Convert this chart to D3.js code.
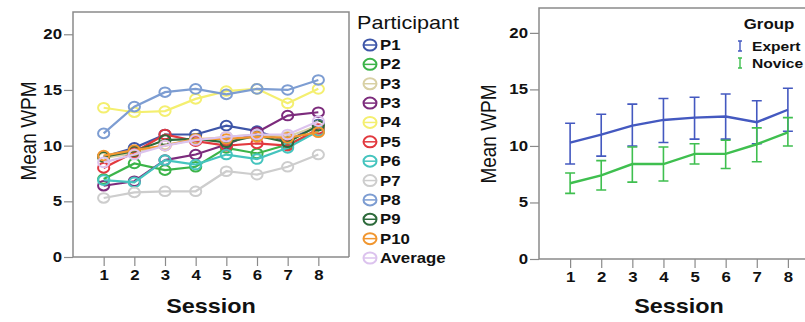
<!DOCTYPE html>
<html>
<head>
<meta charset="utf-8">
<script src="https://cdn.jsdelivr.net/npm/d3@7"></script>
<style>
  body { margin: 0; background: #fff; }
  svg { display: block; font-family: Arial, "Liberation Sans", sans-serif; }
</style>
</head>
<body>
<svg id="chart" width="805" height="322"></svg>
<script>
// sessions on the x axis
const sessions = [1, 2, 3, 4, 5, 6, 7, 8];
const yTicks = [0, 5, 10, 15, 20];

// left panel: mean WPM per participant per session
const participants = ["P1", "P2", "P3", "P3", "P4", "P5", "P6", "P7", "P8", "P9", "P10", "Average"];
const wpmP1  = [9.0, 9.8, 11.0, 11.0, 11.8, 11.3, 10.4, 11.9];
const wpmP2  = [7.0, 8.4, 7.8, 8.1, 9.8, 9.3, 10.1, 11.3];
const wpmP3a = [8.9, 9.3, 10.1, 10.5, 10.8, 11.0, 10.8, 11.8];
const wpmP3b = [6.4, 6.8, 8.7, 9.2, 10.1, 11.2, 12.7, 13.0];
const wpmP4  = [13.4, 13.0, 13.1, 14.2, 14.9, 15.1, 13.8, 15.1];
const wpmP5  = [8.0, 9.4, 11.0, 10.4, 10.0, 10.2, 10.0, 11.5];
const wpmP6  = [6.9, 6.7, 8.7, 8.3, 9.2, 8.8, 9.8, 11.3];
const wpmP7  = [5.3, 5.8, 5.9, 5.9, 7.7, 7.4, 8.1, 9.2];
const wpmP8  = [11.1, 13.5, 14.8, 15.1, 14.6, 15.1, 15.0, 15.9];
const wpmP9  = [9.0, 9.5, 10.5, 10.6, 10.3, 10.9, 10.3, 11.8];
const wpmP10 = [9.1, 9.6, 10.0, 10.6, 10.6, 10.8, 10.7, 11.2];
const wpmAvg = [8.5, 9.2, 10.0, 10.5, 10.8, 11.0, 11.0, 12.2];
const participantSeries = [wpmP1, wpmP2, wpmP3a, wpmP3b, wpmP4, wpmP5, wpmP6, wpmP7, wpmP8, wpmP9, wpmP10, wpmAvg];
const participantColors = ["#3e56a8", "#3cb449", "#d8d0a4", "#7c2b7c", "#f4ef70", "#e2393f",
                           "#45c4be", "#cdcdcd", "#7d9dd2", "#2d6a3b", "#f1962f", "#dcc3ee"];

// right panel: group means with error bars
const groups = ["Expert", "Novice"];
const expertMean = [10.3, 11.0, 11.8, 12.3, 12.5, 12.6, 12.1, 13.2];
const expertLow  = [8.4, 9.1, 10.0, 10.3, 10.6, 10.6, 10.2, 11.3];
const expertHigh = [12.0, 12.8, 13.7, 14.2, 14.3, 14.6, 14.0, 15.1];
const noviceMean = [6.7, 7.4, 8.4, 8.4, 9.3, 9.3, 10.15, 11.2];
const noviceLow  = [5.8, 6.1, 6.8, 6.9, 8.4, 8.0, 8.6, 10.0];
const noviceHigh = [7.6, 8.7, 9.9, 9.9, 10.2, 10.5, 11.6, 12.5];
const groupColors = ["#4459c0", "#3fbf4f"];

const svg = d3.select("#chart");
const frameColor = "#8a8a8a";
const SX = 1.2; // the picture is a bit wider than tall, text looks stretched

// stretch a text horizontally around its own x
function stretch(sel) {
  sel.each(function () {
    const t = d3.select(this);
    const x = +t.attr("x") || 0;
    t.attr("transform", `translate(${x},0) scale(${SX},1) translate(${-x},0)`);
  });
}

function drawAxes(g, x, y, labelX, labelY, right, top) {
  const ya = g.append("g").attr("transform", `translate(${x.range()[0]},0)`)
    .call(d3.axisLeft(y).tickValues(yTicks).tickSize(9).tickPadding(2));
  const xa = g.append("g").attr("transform", `translate(0,${y.range()[0]})`)
    .call(d3.axisBottom(x).tickValues(sessions).tickSize(9).tickPadding(4));
  [ya, xa].forEach(a => {
    a.select(".domain").remove();
    a.selectAll("line").attr("stroke", frameColor).attr("stroke-width", 1.2);
    a.selectAll("text").attr("fill", "#111").style("font-size", "14px").style("font-weight", "bold")
      .call(stretch);
  });
  // frame
  const x0 = x.range()[0], y0 = y.range()[0];
  g.append("path")
    .attr("d", `M${x0},${y0}V${top}H${right}` + (right < 800 ? `V${y0}` : "") + `M${x0},${y0}H${right}`)
    .attr("fill", "none").attr("stroke", frameColor).attr("stroke-width", 1.5);
  g.append("text").attr("transform", `translate(${labelX},${labelY}) scale(${SX},1) rotate(-90)`)
    .attr("text-anchor", "middle").style("font-size", "19px").attr("fill", "#111").text("Mean WPM");
  g.append("text").attr("x", (x(1) + x(8)) / 2).attr("y", 313)
    .attr("text-anchor", "middle").style("font-size", "19.5px").style("font-weight", "bold")
    .attr("fill", "#111").text("Session").call(stretch);
}

// ---------- left panel ----------
const xL = d3.scaleLinear().domain([0, 9]).range([73, 349]);
const yL = d3.scaleLinear().domain([0, 22]).range([257, 12]);
const left = svg.append("g");
drawAxes(left, xL, yL, 36, 131, 349, 12);

const lineL = d3.line().x((d, i) => xL(sessions[i])).y(d => yL(d));
participantSeries.forEach((s, k) => {
  const c = participantColors[k];
  const gs = left.append("g");
  gs.append("path").attr("d", lineL(s)).attr("fill", "none").attr("stroke", c).attr("stroke-width", 2.2);
  gs.selectAll("ellipse").data(s).join("ellipse")
    .attr("cx", (d, i) => xL(sessions[i])).attr("cy", d => yL(d)).attr("rx", 5.6).attr("ry", 4.8)
    .attr("fill", "none").attr("stroke", c).attr("stroke-width", 2);
});

// legend
const legL = svg.append("g").attr("transform", "translate(357,0)");
legL.append("text").attr("x", 0).attr("y", 29).style("font-size", "18px").attr("fill", "#111")
  .text("Participant").call(stretch);
const rowY = d3.scaleLinear().domain([0, participants.length - 1]).range([45, 258]);
participants.forEach((p, k) => {
  const r = legL.append("g").attr("transform", `translate(0,${rowY(k)})`);
  r.append("ellipse").attr("cx", 13).attr("cy", 0).attr("rx", 6.5).attr("ry", 5.5)
    .attr("fill", "none").attr("stroke", participantColors[k]).attr("stroke-width", 2);
  r.append("line").attr("x1", 6.5).attr("x2", 19.5).attr("stroke", participantColors[k]).attr("stroke-width", 1.5);
  r.append("text").attr("x", 23).attr("y", 5).style("font-size", "14px").style("font-weight", "bold")
    .attr("fill", "#111").text(p).call(stretch);
});

// ---------- right panel ----------
const xR = d3.scaleLinear().domain([0, 9]).range([539, 819]);
const yR = d3.scaleLinear().domain([0, 22.2]).range([259, 8]);
const right = svg.append("g");
drawAxes(right, xR, yR, 496, 134, 805, 8);

const groupData = [
  { mean: expertMean, low: expertLow, high: expertHigh },
  { mean: noviceMean, low: noviceLow, high: noviceHigh }
];
const lineR = d3.line().x((d, i) => xR(sessions[i])).y(d => yR(d));
groupData.forEach((gd, k) => {
  const c = groupColors[k];
  const gg = right.append("g");
  gg.append("path").attr("d", lineR(gd.mean)).attr("fill", "none").attr("stroke", c).attr("stroke-width", 2.4);
  sessions.forEach((s, i) => {
    const cx = xR(s);
    gg.append("path")
      .attr("d", `M${cx},${yR(gd.low[i])}V${yR(gd.high[i])}M${cx - 5},${yR(gd.low[i])}h10M${cx - 5},${yR(gd.high[i])}h10`)
      .attr("fill", "none").attr("stroke", c).attr("stroke-width", 1.6);
  });
});

// group legend
const legR = svg.append("g");
legR.append("text").attr("x", 769).attr("y", 29).attr("text-anchor", "middle")
  .style("font-size", "14px").style("font-weight", "bold").attr("fill", "#111").text("Group").call(stretch);
groups.forEach((gname, k) => {
  const cy = 46 + k * 17;
  legR.append("path").attr("d", `M740,${cy - 5}V${cy + 5}M738,${cy - 5}h4M738,${cy + 5}h4`)
    .attr("fill", "none").attr("stroke", groupColors[k]).attr("stroke-width", 1.4);
  legR.append("text").attr("x", 752).attr("y", cy + 5).style("font-size", "13px").style("font-weight", "bold")
    .attr("fill", "#111").text(gname).call(stretch);
});
</script>
</body>
</html>
